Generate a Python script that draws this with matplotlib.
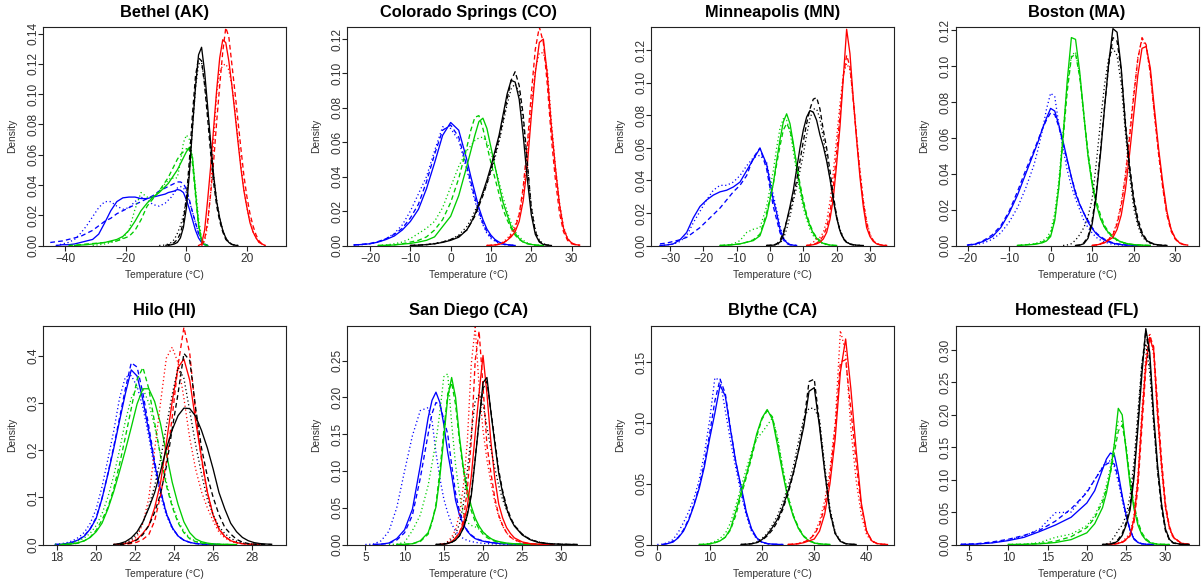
import matplotlib
matplotlib.use("Agg")
import matplotlib.pyplot as plt

plt.rcParams['font.family'] = ['Liberation Sans', 'DejaVu Sans']

# ---------------- data (density estimates) ----------------
# each colour entry: [solid, dashed, dotted]

# Bethel (AK)
BET_X = [-45, -43, -41, -39, -37, -35, -33, -31, -29, -27, -25, -23, -21, -19, -17, -15, -13, -11, -9, -7,
         -6, -5, -4, -3, -2, -1, 0, 1, 2, 3, 4, 5, 6, 7, 8, 9, 10, 11, 12, 13, 14, 15, 16, 17, 18, 19, 20,
         21, 22, 23, 24, 25, 26, 27, 28]
BET_BLUE = [
    [0, 0, .0005, .0005, .001, .002, .003, .004, .0075, .015, .023, .029, .0315, .032, .032, .031, .031, .032, .033, .034,
     .035, .0355, .036, .037, .0365, .035, .030, .024, .017, .010, .005, .002, .0005,
     0, 0, 0, 0, 0, 0, 0, 0, 0, 0, 0, 0, 0, 0, 0, 0, 0, 0, 0, 0, 0, 0],
    [.002, .0025, .003, .004, .005, .006, .008, .010, .013, .016, .018, .021, .023, .025, .027, .029, .031, .033, .036, .038,
     .039, .040, .041, .042, .042, .041, .037, .030, .022, .015, .008, .004, .001,
     0, 0, 0, 0, 0, 0, 0, 0, 0, 0, 0, 0, 0, 0, 0, 0, 0, 0, 0, 0, 0, 0],
    [0, 0, .001, .002, .004, .008, .013, .019, .025, .029, .029, .026, .024, .025, .029, .032, .030, .027, .026, .028,
     .030, .032, .035, .038, .039, .038, .035, .029, .022, .015, .008, .004, .001,
     0, 0, 0, 0, 0, 0, 0, 0, 0, 0, 0, 0, 0, 0, 0, 0, 0, 0, 0, 0, 0, 0],
]
BET_GREEN = [
    [0, 0, 0, 0, 0, .0003, .0005, .001, .0015, .002, .003, .004, .006, .010, .016, .023, .028, .032, .035, .039,
     .041, .044, .047, .050, .054, .058, .062, .065, .058, .035, .014, .003, .0005,
     0, 0, 0, 0, 0, 0, 0, 0, 0, 0, 0, 0, 0, 0, 0, 0, 0, 0, 0, 0, 0, 0],
    [0, 0, 0, 0, .0003, .0005, .001, .0013, .0016, .002, .0025, .003, .0045, .006, .010, .017, .026, .031, .036, .042,
     .045, .049, .053, .057, .060, .062, .064, .063, .054, .033, .013, .003, .0005,
     0, 0, 0, 0, 0, 0, 0, 0, 0, 0, 0, 0, 0, 0, 0, 0, 0, 0, 0, 0, 0, 0],
    [0, 0, 0, 0, 0, 0, 0, 0, .0005, .001, .002, .003, .005, .010, .024, .035, .032, .032, .036, .041,
     .043, .045, .044, .045, .055, .068, .073, .070, .058, .038, .018, .005, .001,
     0, 0, 0, 0, 0, 0, 0, 0, 0, 0, 0, 0, 0, 0, 0, 0, 0, 0, 0, 0, 0, 0],
]
BET_BLACK = [
    [0, 0, 0, 0, 0, 0, 0, 0, 0, 0, 0, 0, 0, 0, 0, 0, 0, 0, 0, 0,
     0, .0005, .001, .002, .005, .012, .025, .048, .078, .105, .126, .131, .115, .092, .068, .046, .029, .018, .010,
     .005, .002, .0008, .0002, 0, 0, 0, 0, 0, 0, 0, 0, 0, 0, 0, 0],
    [0, 0, 0, 0, 0, 0, 0, 0, 0, 0, 0, 0, 0, 0, 0, 0, 0, 0, 0, 0,
     .0005, .001, .002, .004, .008, .016, .032, .057, .087, .112, .124, .122, .106, .084, .061, .041, .026, .016, .009,
     .004, .002, .0007, .0002, 0, 0, 0, 0, 0, 0, 0, 0, 0, 0, 0, 0],
    [0, 0, 0, 0, 0, 0, 0, 0, 0, 0, 0, 0, 0, 0, 0, 0, 0, 0, 0, .0003,
     .001, .002, .004, .008, .013, .020, .031, .050, .078, .104, .120, .121, .108, .088, .066, .046, .030, .018, .010,
     .005, .002, .001, .0003, 0, 0, 0, 0, 0, 0, 0, 0, 0, 0, 0, 0],
]
BET_RED = [
    [0, 0, 0, 0, 0, 0, 0, 0, 0, 0, 0, 0, 0, 0, 0, 0, 0, 0, 0, 0,
     0, 0, 0, 0, 0, 0, 0, 0, 0, 0, 0, .001, .010, .030, .052, .078, .103, .124, .136, .134, .122, .106, .088, .069,
     .051, .036, .025, .015, .009, .005, .002, .001, 0, 0, 0],
    [0, 0, 0, 0, 0, 0, 0, 0, 0, 0, 0, 0, 0, 0, 0, 0, 0, 0, 0, 0,
     0, 0, 0, 0, 0, 0, 0, 0, 0, 0, 0, 0, .004, .016, .034, .056, .082, .106, .128, .144, .138, .120, .102, .083,
     .064, .046, .032, .021, .013, .007, .003, .001, 0, 0, 0],
    [0, 0, 0, 0, 0, 0, 0, 0, 0, 0, 0, 0, 0, 0, 0, 0, 0, 0, 0, 0,
     0, 0, 0, 0, 0, 0, 0, 0, 0, 0, 0, 0, .003, .013, .035, .070, .101, .115, .119, .120, .116, .106, .090, .071,
     .053, .037, .025, .016, .009, .005, .002, .001, 0, 0, 0],
]

# Colorado Springs (CO)
COS_X = [-24, -22, -20, -18, -16, -14, -12, -10, -8, -6, -4, -2, 0, 2, 4,
         5, 6, 7, 8, 9, 10, 11, 12, 13, 14, 15, 16, 17, 18, 19, 20, 21, 22, 23, 24, 25, 26, 27, 28, 29, 30, 31, 32]
COS_BLUE = [
    [.0003, .0006, .001, .002, .0035, .0055, .009, .014, .021, .033, .048, .064, .0715, .067, .050,
     .040, .031, .022, .015, .0095, .006, .0035, .002, .001, .0005, .0002,
     0, 0, 0, 0, 0, 0, 0, 0, 0, 0, 0, 0, 0, 0, 0, 0, 0],
    [.0003, .0007, .0012, .0023, .004, .0065, .010, .016, .024, .037, .053, .067, .070, .063, .046,
     .037, .028, .020, .013, .008, .005, .003, .0015, .0008, .0004, .0002,
     0, 0, 0, 0, 0, 0, 0, 0, 0, 0, 0, 0, 0, 0, 0, 0, 0],
    [.0002, .0005, .001, .002, .004, .007, .012, .020, .030, .040, .055, .069, .068, .061, .044,
     .035, .026, .018, .012, .007, .004, .0025, .0012, .0006, .0003, .0001,
     0, 0, 0, 0, 0, 0, 0, 0, 0, 0, 0, 0, 0, 0, 0, 0, 0],
]
COS_GREEN = [
    [0, 0, 0, 0, .0001, .0003, .0008, .0012, .002, .003, .005, .011, .017, .029, .046,
     .055, .064, .072, .074, .068, .057, .046, .035, .025, .018, .011, .007, .004, .002, .0012, .0006, .0003, .0001,
     0, 0, 0, 0, 0, 0, 0, 0, 0, 0],
    [0, 0, 0, 0, .0002, .0004, .001, .002, .003, .005, .009, .015, .025, .039, .057,
     .067, .0745, .0755, .068, .058, .048, .039, .030, .021, .015, .010, .006, .0035, .002, .001, .0005, .0002, .0001,
     0, 0, 0, 0, 0, 0, 0, 0, 0, 0],
    [0, 0, 0, 0, .0003, .001, .002, .004, .007, .010, .014, .022, .034, .046, .055,
     .058, .061, .0625, .063, .060, .054, .046, .037, .028, .020, .013, .008, .005, .003, .0015, .0007, .0003, .0001,
     0, 0, 0, 0, 0, 0, 0, 0, 0, 0],
]
COS_BLACK = [
    [0, 0, 0, 0, 0, 0, 0, 0, .0002, .0005, .001, .0018, .003, .0048, .009,
     .013, .018, .024, .031, .038, .046, .055, .064, .076, .088, .096, .095, .085, .064, .039, .018, .0065, .002,
     .0006, .0002, 0, 0, 0, 0, 0, 0, 0, 0],
    [0, 0, 0, 0, 0, 0, 0, 0, .0002, .0005, .001, .002, .0035, .0055, .009,
     .013, .017, .023, .029, .036, .044, .053, .062, .073, .085, .096, .101, .093, .076, .049, .022, .008, .0025,
     .0008, .0002, 0, 0, 0, 0, 0, 0, 0, 0],
    [0, 0, 0, 0, 0, 0, 0, 0, .0002, .0006, .0012, .002, .0035, .006, .011,
     .015, .020, .025, .030, .036, .043, .051, .060, .071, .082, .091, .094, .089, .072, .047, .023, .009, .003,
     .001, .0003, 0, 0, 0, 0, 0, 0, 0, 0],
]
COS_RED = [
    [0, 0, 0, 0, 0, 0, 0, 0, 0, 0, 0, 0, 0, 0, 0,
     0, 0, 0, 0, 0, .0001, .0003, .0007, .0015, .003, .005, .008, .014, .026, .046, .075, .100, .118, .120, .099,
     .069, .045, .024, .010, .004, .0015, .0005, .0002],
    [0, 0, 0, 0, 0, 0, 0, 0, 0, 0, 0, 0, 0, 0, 0,
     0, 0, 0, 0, 0, .0001, .0003, .0007, .0015, .003, .006, .010, .018, .034, .058, .088, .114, .127, .118, .093,
     .062, .038, .019, .008, .003, .001, .0004, .0001],
    [0, 0, 0, 0, 0, 0, 0, 0, 0, 0, 0, 0, 0, 0, 0,
     0, 0, 0, 0, 0, .0002, .0005, .001, .002, .004, .007, .012, .018, .030, .052, .080, .102, .112, .112, .102,
     .072, .046, .025, .011, .004, .0015, .0005, .0002],
]

# Minneapolis (MN)
MIN_X = [-33, -31, -29, -27, -25, -23, -21, -19, -17, -15, -13, -11, -9, -7, -5, -3, -1, 1,
         2, 3, 4, 5, 6, 7, 8, 9, 10, 11, 12, 13, 14, 15, 16, 17, 18, 19, 20, 21, 22, 23, 24, 25, 26, 27, 28,
         29, 30, 31, 32, 33, 34, 35]
MIN_BLUE = [
    [0, .0003, .001, .0035, .008, .017, .024, .028, .031, .033, .034, .036, .039, .046, .053, .0598, .050, .028,
     .020, .010, .0045, .0018, .0006, .0002,
     0, 0, 0, 0, 0, 0, 0, 0, 0, 0, 0, 0, 0, 0, 0, 0, 0, 0, 0, 0, 0, 0, 0, 0, 0, 0, 0, 0],
    [.001, .0015, .0025, .0035, .005, .008, .011, .015, .019, .023, .028, .033, .037, .043, .054, .060, .047, .024,
     .016, .008, .0035, .0012, .0004, .0001,
     0, 0, 0, 0, 0, 0, 0, 0, 0, 0, 0, 0, 0, 0, 0, 0, 0, 0, 0, 0, 0, 0, 0, 0, 0, 0, 0, 0],
    [0, .0003, .0008, .0025, .006, .014, .021, .028, .034, .037, .037, .039, .043, .049, .054, .0555, .051, .031,
     .022, .012, .005, .002, .0006, .0002,
     0, 0, 0, 0, 0, 0, 0, 0, 0, 0, 0, 0, 0, 0, 0, 0, 0, 0, 0, 0, 0, 0, 0, 0, 0, 0, 0, 0],
]
MIN_GREEN = [
    [0, 0, 0, 0, 0, 0, 0, 0, 0, 0, .0002, .0005, .001, .002, .003, .006, .018, .038,
     .052, .065, .076, .081, .075, .063, .049, .036, .026, .018, .012, .0075, .0045, .0025, .0013, .0007, .0003, .0001,
     0, 0, 0, 0, 0, 0, 0, 0, 0, 0, 0, 0, 0, 0, 0, 0],
    [0, 0, 0, 0, 0, 0, 0, 0, 0, 0, .0002, .0005, .001, .002, .0035, .007, .020, .038,
     .050, .061, .071, .075, .071, .062, .050, .038, .028, .019, .013, .008, .005, .003, .0015, .0008, .0003, .0001,
     0, 0, 0, 0, 0, 0, 0, 0, 0, 0, 0, 0, 0, 0, 0, 0],
    [0, 0, 0, 0, 0, 0, 0, 0, 0, 0, .0003, .001, .003, .008, .010, .011, .024, .046,
     .060, .072, .078, .077, .070, .058, .045, .033, .023, .016, .010, .006, .0035, .002, .001, .0005, .0002, 0,
     0, 0, 0, 0, 0, 0, 0, 0, 0, 0, 0, 0, 0, 0, 0, 0],
]
MIN_BLACK = [
    [0, 0, 0, 0, 0, 0, 0, 0, 0, 0, 0, 0, 0, 0, 0, 0, 0, .0002,
     .0008, .002, .0065, .015, .024, .034, .047, .060, .071, .079, .083, .082, .077, .068, .061, .052, .041, .028,
     .017, .009, .0045, .002, .001, .0005, .0002, .0001, 0, 0, 0, 0, 0, 0, 0, 0],
    [0, 0, 0, 0, 0, 0, 0, 0, 0, 0, 0, 0, 0, 0, 0, 0, 0, .0003,
     .001, .003, .008, .015, .022, .030, .040, .052, .064, .075, .084, .090, .091, .084, .071, .060, .046, .031,
     .018, .009, .004, .0018, .0008, .0003, .0001, 0, 0, 0, 0, 0, 0, 0, 0, 0],
    [0, 0, 0, 0, 0, 0, 0, 0, 0, 0, 0, 0, 0, 0, 0, 0, 0, .0001,
     .0005, .0015, .004, .010, .018, .027, .036, .046, .056, .068, .078, .084, .084, .078, .066, .054, .042, .029,
     .018, .010, .005, .002, .001, .0004, .0001, 0, 0, 0, 0, 0, 0, 0, 0, 0],
]
MIN_RED = [
    [0, 0, 0, 0, 0, 0, 0, 0, 0, 0, 0, 0, 0, 0, 0, 0, 0, 0,
     0, 0, 0, 0, 0, 0, 0, 0, 0, 0, .0002, .0005, .001, .002, .004, .008, .016, .029, .050, .073, .103, .133,
     .118, .090, .065, .042, .024, .011, .0055, .0025, .001, .0004, .0001, 0],
    [0, 0, 0, 0, 0, 0, 0, 0, 0, 0, 0, 0, 0, 0, 0, 0, 0, 0,
     0, 0, 0, 0, 0, 0, 0, 0, 0, 0, .0003, .0007, .0015, .003, .006, .011, .020, .036, .057, .080, .104, .117,
     .110, .089, .066, .045, .027, .014, .0065, .003, .0012, .0005, .0002, 0],
    [0, 0, 0, 0, 0, 0, 0, 0, 0, 0, 0, 0, 0, 0, 0, 0, 0, 0,
     0, 0, 0, 0, 0, 0, 0, 0, 0, 0, .0005, .002, .004, .005, .008, .015, .027, .045, .066, .087, .105, .112,
     .108, .090, .067, .046, .028, .015, .007, .003, .0012, .0004, .0001, 0],
]

# Boston (MA)
BOS_X = [-20, -18, -16, -14, -12, -10, -8, -6, -4,
         -3, -2, -1, 0, 1, 2, 3, 4, 5, 6, 7, 8, 9, 10, 11, 12, 13, 14, 15, 16, 17, 18, 19, 20,
         21, 22, 23, 24, 25, 26, 27, 28, 29, 30, 31, 32, 33]
BOS_BLUE = [
    [.0002, .0008, .0025, .005, .010, .018, .028, .040, .052,
     .058, .065, .071, .0765, .075, .067, .058, .048, .038, .029, .023, .018, .013, .0095, .0065, .0045, .003, .002,
     .0013, .0008, .0005, .0003, .0002, .0001, 0, 0, 0, 0, 0, 0, 0, 0, 0, 0, 0, 0, 0],
    [.0003, .001, .003, .006, .011, .019, .030, .042, .053,
     .059, .065, .070, .074, .073, .066, .057, .047, .038, .030, .023, .018, .014, .010, .007, .005, .0035, .0024,
     .0015, .001, .0006, .0003, .0002, .0001, 0, 0, 0, 0, 0, 0, 0, 0, 0, 0, 0, 0, 0],
    [.0001, .0005, .0015, .0035, .007, .013, .021, .032, .045,
     .054, .064, .076, .085, .083, .067, .054, .042, .033, .026, .020, .014, .010, .007, .0045, .003, .002, .0012,
     .0007, .0004, .0002, .0001, 0, 0, 0, 0, 0, 0, 0, 0, 0, 0, 0, 0, 0, 0, 0],
]
BOS_GREEN = [
    [0, 0, 0, 0, 0, 0, 0, .0003, .0006,
     .001, .0015, .0025, .005, .014, .033, .061, .092, .116, .115, .097, .073, .050, .034, .023, .015, .010, .007,
     .0045, .003, .002, .0013, .0008, .0005, .0003, .0002, .0001, 0, 0, 0, 0, 0, 0, 0, 0, 0, 0],
    [0, 0, 0, 0, 0, 0, 0, .0004, .0008,
     .0012, .002, .003, .006, .015, .033, .059, .086, .105, .107, .094, .073, .052, .036, .025, .017, .011, .0075,
     .005, .0033, .002, .0013, .0008, .0005, .0003, .0002, .0001, 0, 0, 0, 0, 0, 0, 0, 0, 0, 0],
    [0, 0, 0, 0, 0, 0, 0, .0005, .001,
     .0015, .0025, .004, .008, .018, .037, .063, .089, .106, .108, .095, .072, .050, .034, .023, .015, .010, .0065,
     .0042, .0027, .0017, .001, .0006, .0003, .0002, .0001, 0, 0, 0, 0, 0, 0, 0, 0, 0, 0, 0],
]
BOS_BLACK = [
    [0, 0, 0, 0, 0, 0, 0, 0, 0,
     0, 0, 0, 0, 0, 0, 0, 0, 0, 0, .0002, .001, .004, .012, .028, .051, .077, .102, .121, .119, .099, .067, .043,
     .025, .013, .0065, .003, .0015, .0007, .0003, .0001, 0, 0, 0, 0, 0, 0],
    [0, 0, 0, 0, 0, 0, 0, 0, 0,
     0, 0, 0, 0, 0, 0, 0, 0, 0, 0, .0003, .0015, .005, .014, .030, .053, .078, .101, .116, .114, .097, .069, .045,
     .027, .015, .0075, .0035, .0017, .0008, .0003, .0001, 0, 0, 0, 0, 0, 0],
    [0, 0, 0, 0, 0, 0, 0, 0, 0,
     0, 0, 0, 0, 0, 0, 0, .0003, .001, .003, .006, .010, .016, .026, .046, .069, .090, .105, .110, .106, .090, .063,
     .039, .021, .011, .005, .0025, .001, .0005, .0002, .0001, 0, 0, 0, 0, 0, 0],
]
BOS_RED = [
    [0, 0, 0, 0, 0, 0, 0, 0, 0,
     0, 0, 0, 0, 0, 0, 0, 0, 0, 0, 0, 0, 0, 0, .0003, .0008, .0015, .003, .0045, .009, .017, .031, .051, .073,
     .095, .110, .111, .099, .076, .054, .035, .019, .009, .004, .0015, .0006, .0002],
    [0, 0, 0, 0, 0, 0, 0, 0, 0,
     0, 0, 0, 0, 0, 0, 0, 0, 0, 0, 0, 0, 0, 0, .0004, .001, .002, .0035, .006, .012, .022, .038, .060, .083,
     .104, .116, .112, .096, .073, .051, .032, .017, .008, .0035, .0013, .0005, .0002],
    [0, 0, 0, 0, 0, 0, 0, 0, 0,
     0, 0, 0, 0, 0, 0, 0, 0, 0, 0, 0, 0, 0, 0, .0003, .0008, .0018, .0035, .0065, .013, .024, .040, .062, .085,
     .105, .115, .111, .096, .073, .051, .032, .018, .009, .004, .0016, .0006, .0002],
]

# Hilo (HI)
HIL_X = [17.9, 18.2, 18.5, 18.8, 19.1, 19.4, 19.7, 20.0, 20.3, 20.6, 20.9, 21.2, 21.5, 21.8, 22.1, 22.4, 22.7,
         23.0, 23.3, 23.6, 23.9, 24.2, 24.5, 24.8, 25.1, 25.4, 25.7, 26.0, 26.3, 26.6, 26.9, 27.2, 27.5, 27.8,
         28.1, 28.4, 28.7, 29.0]
HIL_BLUE = [
    [0, .0005, .002, .005, .010, .018, .033, .055, .097, .148, .203, .262, .320, .370, .357, .306, .240, .170,
     .113, .066, .036, .018, .009, .0045, .002, .001, .0005, .0002, 0, 0, 0, 0, 0, 0, 0, 0, 0, 0],
    [0, .0005, .002, .005, .010, .019, .034, .057, .098, .150, .207, .268, .330, .385, .376, .320, .250, .176,
     .115, .067, .036, .018, .009, .0045, .002, .001, .0005, .0002, 0, 0, 0, 0, 0, 0, 0, 0, 0, 0],
    [.0005, .0015, .004, .008, .015, .026, .045, .075, .122, .180, .240, .310, .355, .358, .335, .290, .228, .160,
     .104, .062, .034, .018, .009, .0045, .002, .001, .0005, .0002, 0, 0, 0, 0, 0, 0, 0, 0, 0, 0],
]
HIL_GREEN = [
    [0, 0, .0005, .0015, .004, .008, .015, .027, .045, .075, .112, .155, .200, .248, .298, .330, .330, .303,
     .256, .193, .132, .085, .048, .025, .012, .006, .003, .0013, .0006, .0003, .0001, 0, 0, 0, 0, 0, 0, 0],
    [0, 0, 0, .001, .003, .008, .016, .030, .052, .078, .118, .170, .228, .288, .350, .375, .330, .258,
     .188, .125, .080, .046, .025, .012, .006, .003, .0013, .0006, .0003, .0001, 0, 0, 0, 0, 0, 0, 0, 0],
    [.0005, .001, .002, .004, .008, .014, .024, .040, .065, .100, .145, .200, .262, .310, .333, .330, .300, .250,
     .190, .132, .085, .050, .028, .014, .007, .0035, .0015, .0007, .0003, .0001, 0, 0, 0, 0, 0, 0, 0, 0],
]
HIL_BLACK = [
    [0, 0, 0, 0, 0, 0, 0, 0, 0, 0, 0, .002, .006, .014, .027, .048, .077, .110, .155, .203, .243, .273, .289,
     .288, .272, .242, .205, .160, .110, .075, .045, .027, .015, .008, .004, .002, .001, .0004],
    [0, 0, 0, 0, 0, 0, 0, 0, 0, 0, 0, 0, .001, .004, .010, .021, .040, .068, .107, .165, .245, .320, .405,
     .390, .290, .205, .145, .100, .063, .036, .022, .011, .005, .002, .001, .0004, .0001, 0],
    [0, 0, 0, 0, 0, 0, 0, 0, 0, 0, 0, .001, .003, .010, .023, .047, .080, .124, .180, .250, .318, .375, .352,
     .283, .212, .150, .096, .063, .038, .023, .013, .007, .0035, .0015, .0006, .0002, 0, 0],
]
HIL_RED = [
    [0, 0, 0, 0, 0, 0, 0, 0, 0, 0, 0, .0005, .002, .005, .011, .024, .040, .078, .130, .215, .303, .375, .393,
     .348, .262, .185, .112, .062, .032, .017, .008, .004, .0018, .0007, .0002, 0, 0, 0],
    [0, 0, 0, 0, 0, 0, 0, 0, 0, 0, 0, 0, .0005, .002, .005, .011, .021, .050, .103, .175, .270, .380, .460,
     .405, .280, .180, .110, .062, .033, .017, .008, .004, .0018, .0007, .0002, 0, 0, 0],
    [0, 0, 0, 0, 0, 0, 0, 0, 0, 0, 0, .0005, .002, .007, .017, .045, .098, .200, .300, .395, .418, .385, .310,
     .225, .160, .112, .078, .050, .026, .014, .007, .0035, .0015, .0006, .0002, 0, 0, 0],
]

# San Diego (CA)
SD_X = [4, 5, 6, 7, 8, 9, 10, 11, 12, 13,
        13.5, 14, 14.5, 15, 15.5, 16, 16.5, 17, 17.5, 18, 18.5, 19, 19.5, 20, 20.5, 21, 21.5, 22, 22.5, 23, 23.5, 24,
        25, 26, 27, 28, 29, 30, 31, 32]
SD_BLUE = [
    [0, 0, 0, .0005, .002, .008, .020, .048, .107, .172,
     .196, .207, .193, .163, .125, .095, .060, .040, .027, .018, .012, .008, .006, .0045, .0035, .0027, .002, .0015,
     .0012, .0009, .0007, .0005, .0003, .0001, 0, 0, 0, 0, 0, 0],
    [0, 0, 0, .0004, .0015, .006, .016, .040, .090, .150,
     .178, .193, .190, .170, .150, .108, .070, .045, .030, .019, .013, .009, .0065, .005, .0038, .003, .0022, .0016,
     .0012, .0009, .0007, .0005, .0003, .0001, 0, 0, 0, 0, 0, 0],
    [0, 0, .0005, .005, .018, .050, .100, .148, .182, .186,
     .168, .125, .090, .062, .043, .028, .018, .012, .008, .0055, .004, .003, .0022, .0016, .0012, .0009, .0007, .0005,
     .0004, .0003, .0002, .0001, 0, 0, 0, 0, 0, 0, 0, 0],
]
SD_GREEN = [
    [0, 0, 0, 0, 0, 0, .0003, .001, .005, .016,
     .032, .051, .092, .145, .200, .227, .200, .146, .104, .075, .052, .036, .025, .017, .012, .008, .0055, .004,
     .003, .002, .0015, .001, .0006, .0003, .0001, 0, 0, 0, 0, 0],
    [0, 0, 0, 0, 0, 0, .0003, .001, .004, .014,
     .030, .055, .100, .155, .205, .220, .190, .140, .100, .068, .046, .031, .021, .014, .0095, .0065, .0045, .003,
     .002, .0015, .001, .0007, .0004, .0002, .0001, 0, 0, 0, 0, 0],
    [0, 0, 0, 0, 0, .0005, .003, .019, .040, .080,
     .110, .140, .180, .228, .232, .165, .108, .068, .042, .030, .026, .024, .021, .017, .012, .008, .005, .003,
     .002, .001, .0006, .0003, .0001, 0, 0, 0, 0, 0, 0, 0],
]
SD_BLACK = [
    [0, 0, 0, 0, 0, 0, 0, 0, 0, 0,
     0, 0, .0002, .0006, .0015, .003, .006, .012, .022, .040, .066, .115, .168, .220, .227, .180, .138, .097,
     .070, .049, .035, .025, .013, .0065, .003, .0015, .0007, .0003, .0001, 0],
    [0, 0, 0, 0, 0, 0, 0, 0, 0, 0,
     0, 0, .0002, .0006, .0015, .003, .006, .012, .023, .042, .070, .117, .168, .212, .222, .182, .142, .101,
     .073, .052, .037, .026, .014, .007, .0035, .0017, .0008, .0003, .0001, 0],
    [0, 0, 0, 0, 0, 0, 0, 0, 0, 0,
     0, 0, .0004, .001, .003, .007, .014, .028, .055, .100, .150, .195, .204, .190, .160, .130, .104, .080,
     .061, .047, .035, .026, .014, .007, .0035, .0017, .0008, .0003, .0001, 0],
]
SD_RED = [
    [0, 0, 0, 0, 0, 0, 0, 0, 0, 0,
     0, 0, 0, .0005, .0015, .004, .009, .016, .028, .052, .092, .150, .206, .257, .205, .140, .090, .055,
     .036, .023, .015, .009, .0035, .0012, .0004, .0001, 0, 0, 0, 0],
    [0, 0, 0, 0, 0, 0, 0, 0, 0, 0,
     0, 0, 0, .0005, .0015, .004, .009, .016, .033, .075, .140, .250, .290, .215, .135, .098, .063, .040,
     .026, .016, .010, .0065, .0025, .0009, .0003, .0001, 0, 0, 0, 0],
    [0, 0, 0, 0, 0, 0, 0, 0, 0, 0,
     0, 0, 0, .001, .004, .010, .020, .042, .080, .140, .245, .295, .215, .155, .115, .085, .058, .038,
     .025, .016, .010, .006, .0025, .001, .0003, .0001, 0, 0, 0, 0],
]

# Blythe (CA)
BLY_X = [0, 1, 2, 3, 4, 5, 6, 7, 8, 9, 10, 11, 12, 13, 14, 15, 16, 17, 18, 19, 20, 21, 22, 23, 24, 25, 26, 27,
         28, 29, 30, 31, 32, 33, 34, 35, 36, 37, 38, 39, 40, 41, 42, 43, 44]
BLY_BLUE = [
    [0, 0, .0008, .002, .0055, .011, .020, .032, .046, .064, .087, .108, .131, .122, .094, .068, .048, .027, .013,
     .0055, .002, .0008, .0003, .0001, 0, 0, 0, 0, 0, 0, 0, 0, 0, 0, 0, 0, 0, 0, 0, 0, 0, 0, 0, 0, 0],
    [0, 0, .0008, .0025, .006, .012, .021, .033, .048, .067, .091, .118, .136, .124, .095, .068, .046, .026, .012,
     .005, .002, .0007, .0002, .0001, 0, 0, 0, 0, 0, 0, 0, 0, 0, 0, 0, 0, 0, 0, 0, 0, 0, 0, 0, 0, 0],
    [0, .0003, .0015, .004, .010, .018, .027, .038, .053, .075, .102, .137, .135, .110, .085, .063, .042, .024, .011,
     .0045, .0017, .0006, .0002, 0, 0, 0, 0, 0, 0, 0, 0, 0, 0, 0, 0, 0, 0, 0, 0, 0, 0, 0, 0, 0, 0],
]
BLY_GREEN = [
    [0, 0, 0, 0, 0, 0, 0, 0, 0, .0001, .0005, .0015, .003, .006, .013, .027, .043, .057, .073, .091, .104, .111,
     .103, .081, .058, .037, .023, .013, .0065, .003, .0012, .0005, .0002, 0, 0, 0, 0, 0, 0, 0, 0, 0, 0, 0, 0],
    [0, 0, 0, 0, 0, 0, 0, 0, 0, .0001, .0005, .0015, .003, .006, .012, .024, .040, .055, .071, .089, .103, .110,
     .105, .085, .061, .039, .024, .014, .007, .0035, .0015, .0006, .0002, 0, 0, 0, 0, 0, 0, 0, 0, 0, 0, 0, 0],
    [0, 0, 0, 0, 0, 0, 0, 0, 0, .0003, .001, .0025, .005, .009, .018, .032, .047, .062, .076, .087, .092, .098,
     .104, .088, .063, .040, .024, .013, .0065, .003, .0012, .0005, .0002, 0, 0, 0, 0, 0, 0, 0, 0, 0, 0, 0, 0],
]
BLY_BLACK = [
    [0, 0, 0, 0, 0, 0, 0, 0, 0, 0, 0, 0, 0, 0, 0, 0, 0, .0002, .0006, .0015, .004, .008, .014, .021, .031, .044,
     .059, .077, .097, .126, .129, .097, .060, .027, .009, .0025, .0007, .0002, 0, 0, 0, 0, 0, 0, 0],
    [0, 0, 0, 0, 0, 0, 0, 0, 0, 0, 0, 0, 0, 0, 0, 0, 0, .0002, .0006, .0015, .0035, .007, .012, .019, .029, .042,
     .058, .078, .100, .134, .136, .100, .060, .026, .009, .0025, .0007, .0002, 0, 0, 0, 0, 0, 0, 0],
    [0, 0, 0, 0, 0, 0, 0, 0, 0, 0, 0, 0, 0, 0, 0, 0, 0, .0003, .0008, .002, .005, .009, .016, .024, .035, .048,
     .064, .085, .104, .112, .112, .103, .065, .030, .010, .003, .0008, .0002, 0, 0, 0, 0, 0, 0, 0],
]
BLY_RED = [
    [0, 0, 0, 0, 0, 0, 0, 0, 0, 0, 0, 0, 0, 0, 0, 0, 0, 0, 0, 0, 0, 0, 0, 0, 0, 0,
     .0002, .0006, .0015, .003, .0045, .011, .025, .050, .087, .142, .169, .128, .078, .034, .011, .003, .0008, .0002, 0],
    [0, 0, 0, 0, 0, 0, 0, 0, 0, 0, 0, 0, 0, 0, 0, 0, 0, 0, 0, 0, 0, 0, 0, 0, 0, 0,
     .0003, .0008, .002, .004, .008, .016, .031, .056, .096, .150, .152, .111, .068, .031, .011, .003, .0008, .0002, 0],
    [0, 0, 0, 0, 0, 0, 0, 0, 0, 0, 0, 0, 0, 0, 0, 0, 0, 0, 0, 0, 0, 0, 0, 0, 0, 0,
     .0003, .0008, .002, .004, .009, .019, .036, .062, .100, .176, .158, .095, .053, .024, .008, .0025, .0007, .0002, 0],
]

# Homestead (FL)
HOM_X = [4, 6, 8, 10, 12, 14, 16, 18, 20, 21, 22, 22.5, 23, 23.5, 24, 24.5, 25, 25.5, 26, 26.5, 27, 27.5, 28,
         28.5, 29, 29.5, 30, 30.5, 31, 32, 33]
HOM_BLUE = [
    [0, .0006, .0025, .006, .011, .020, .030, .042, .064, .083, .116,
     .132, .141, .138, .110, .075, .045, .022, .008, .003, .001, .0004, .0001, 0, 0, 0, 0, 0, 0, 0, 0],
    [.0003, .0012, .004, .008, .014, .022, .036, .055, .080, .100, .118,
     .124, .127, .124, .103, .073, .045, .023, .009, .0035, .0012, .0004, .0001, 0, 0, 0, 0, 0, 0, 0, 0],
    [.0002, .0008, .003, .007, .013, .024, .049, .050, .082, .100, .120,
     .128, .129, .120, .097, .068, .041, .021, .009, .0035, .0012, .0004, .0001, 0, 0, 0, 0, 0, 0, 0, 0],
]
HOM_GREEN = [
    [0, 0, 0, 0, .0002, .001, .003, .0075, .018, .032, .057,
     .080, .112, .155, .210, .200, .145, .092, .055, .030, .015, .007, .003, .0012, .0005, .0002, .0001, 0, 0, 0, 0],
    [0, 0, 0, 0, .0003, .0015, .005, .012, .026, .041, .066,
     .086, .110, .142, .175, .184, .150, .100, .062, .035, .018, .009, .004, .0017, .0007, .0003, .0001, 0, 0, 0, 0],
    [0, 0, 0, 0, .0005, .003, .011, .016, .029, .045, .070,
     .092, .120, .155, .190, .190, .150, .096, .058, .032, .016, .008, .0035, .0015, .0006, .0002, .0001, 0, 0, 0, 0],
]
HOM_BLACK = [
    [0, 0, 0, 0, 0, 0, 0, 0, 0, 0, 0,
     .0002, .0008, .002, .006, .014, .030, .053, .103, .180, .262, .333, .296, .200, .122, .063, .024, .008, .0025,
     .0003, 0],
    [0, 0, 0, 0, 0, 0, 0, 0, 0, 0, 0,
     .0003, .001, .003, .008, .017, .034, .060, .112, .190, .275, .330, .285, .190, .112, .056, .021, .007, .002,
     .0002, 0],
    [0, 0, 0, 0, 0, 0, 0, 0, 0, 0, 0,
     .001, .004, .012, .022, .030, .045, .075, .128, .205, .280, .310, .265, .185, .118, .060, .024, .008, .0025,
     .0003, 0],
]
HOM_RED = [
    [0, 0, 0, 0, 0, 0, 0, 0, 0, 0, 0,
     0, .0002, .0008, .002, .0035, .008, .014, .040, .100, .195, .278, .318, .300, .200, .122, .058, .026, .011,
     .002, .0003],
    [0, 0, 0, 0, 0, 0, 0, 0, 0, 0, 0,
     0, .0002, .0006, .0015, .003, .007, .013, .034, .088, .180, .270, .322, .305, .215, .132, .063, .028, .012,
     .002, .0003],
    [0, 0, 0, 0, 0, 0, 0, 0, 0, 0, 0,
     0, .0003, .001, .0025, .005, .010, .018, .045, .108, .205, .292, .326, .292, .195, .115, .055, .024, .010,
     .0018, .0003],
]

TITLES = ['Bethel (AK)', 'Colorado Springs (CO)', 'Minneapolis (MN)', 'Boston (MA)',
          'Hilo (HI)', 'San Diego (CA)', 'Blythe (CA)', 'Homestead (FL)']
XGRIDS = [BET_X, COS_X, MIN_X, BOS_X, HIL_X, SD_X, BLY_X, HOM_X]
CURVES = [
    (BET_BLUE, BET_GREEN, BET_RED, BET_BLACK),
    (COS_BLUE, COS_GREEN, COS_RED, COS_BLACK),
    (MIN_BLUE, MIN_GREEN, MIN_RED, MIN_BLACK),
    (BOS_BLUE, BOS_GREEN, BOS_RED, BOS_BLACK),
    (HIL_BLUE, HIL_GREEN, HIL_RED, HIL_BLACK),
    (SD_BLUE, SD_GREEN, SD_RED, SD_BLACK),
    (BLY_BLUE, BLY_GREEN, BLY_RED, BLY_BLACK),
    (HOM_BLUE, HOM_GREEN, HOM_RED, HOM_BLACK),
]
XTICKS = [[-40, -20, 0, 20], [-20, -10, 0, 10, 20, 30], [-30, -20, -10, 0, 10, 20, 30],
          [-20, -10, 0, 10, 20, 30], [18, 20, 22, 24, 26, 28], [5, 10, 15, 20, 25, 30],
          [0, 10, 20, 30, 40], [5, 10, 15, 20, 25, 30]]
YTICKS = [[0, .02, .04, .06, .08, .10, .12, .14], [0, .02, .04, .06, .08, .10, .12],
          [0, .02, .04, .06, .08, .10, .12], [0, .02, .04, .06, .08, .10, .12],
          [0, .1, .2, .3, .4], [0, .05, .10, .15, .20, .25], [0, .05, .10, .15],
          [0, .05, .10, .15, .20, .25, .30]]
YDEC = [2, 2, 2, 2, 1, 2, 2, 2]
XLIMS = [(-47.5, 32.8), (-25.8, 34.5), (-35.6, 37.3), (-22.9, 35.6),
         (17.26, 29.72), (2.62, 33.6), (-1.15, 45.3), (3.3, 34.2)]
YTOPS = [0.1444, 0.127, 0.1344, 0.1219, 0.463, 0.297, 0.1797, 0.337]

# ---------------- styling ----------------
COLORS = ['#0000FF', '#00CD00', '#FF0000', '#000000']
STYLES = ['-', (0, (3.6, 2.4)), (0, (0.9, 2.0))]

W, H = 1202, 580
fig = plt.figure(figsize=(W / 100, H / 100), dpi=100)

lefts = [42.7, 346.7, 651.3, 955.5]
tops = [27, 326]
aw, ah = 243, 218.5

for i in range(8):
    r, c = divmod(i, 4)
    ax = fig.add_axes([lefts[c] / W, 1 - (tops[r] + ah) / H, aw / W, ah / H])
    xg = XGRIDS[i]
    for col, trip in zip(COLORS, CURVES[i]):
        for ls, ys in zip(STYLES, trip):
            if len(ys) != len(xg):
                raise ValueError(f'{TITLES[i]} length {len(ys)} vs {len(xg)}')
            nz = [k for k, v in enumerate(ys) if v > 0]
            a = max(nz[0] - 1, 0)
            b = min(nz[-1] + 2, len(ys))
            ax.plot(xg[a:b], ys[a:b], color=col, linestyle=ls, linewidth=0.95,
                    solid_joinstyle='round', dash_joinstyle='round')
    ax.set_xlim(*XLIMS[i])
    ax.set_ylim(0, YTOPS[i])
    for s in ax.spines.values():
        s.set_linewidth(0.8)
        s.set_color('#222222')
    ax.set_xticks(XTICKS[i])
    ax.set_yticks(YTICKS[i])
    ax.set_yticklabels([f'{v:.{YDEC[i]}f}' for v in YTICKS[i]], rotation=90, va='center')
    ax.tick_params(axis='both', direction='out', length=3.6, width=0.8, labelsize=8.6,
                   colors='#222222', labelcolor='#333333')
    ax.tick_params(axis='x', pad=1.6)
    ax.tick_params(axis='y', pad=-1.0)
    ax.set_xlabel('Temperature (\u00b0C)', fontsize=7.4, color='#333333')
    ax.xaxis.set_label_coords(0.5, -29.5 / ah)
    ax.xaxis.label.set_va('center')
    ax.set_ylabel('Density', fontsize=7.4, color='#333333')
    ax.yaxis.set_label_coords(-31 / aw, 0.5)
    ax.yaxis.label.set_va('center')
    ax.text(0.5, 1 + 15 / ah, TITLES[i], transform=ax.transAxes, ha='center', va='center',
            fontsize=11.8, fontweight='bold')

fig.savefig('out.png', dpi=100)
